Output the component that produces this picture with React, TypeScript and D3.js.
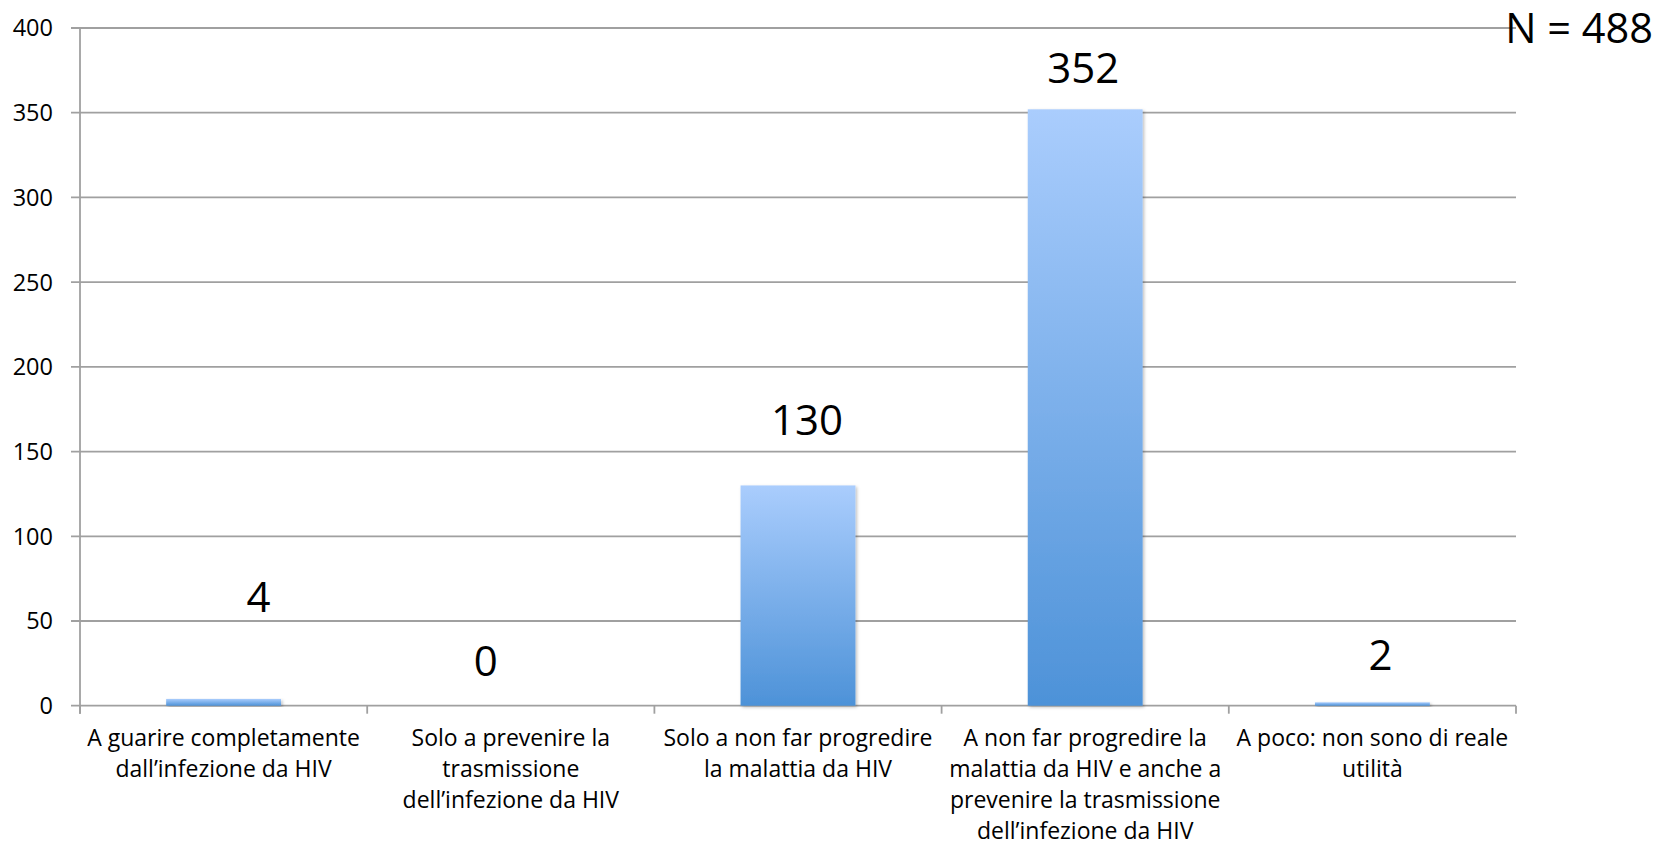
import React from "react";
import * as d3 from "d3";

const categories: string[][] = [
  ["A guarire completamente", "dall’infezione da HIV"],
  ["Solo a prevenire la", "trasmissione", "dell’infezione da HIV"],
  ["Solo a non far progredire", "la malattia da HIV"],
  ["A non far progredire la", "malattia da HIV e anche a", "prevenire la trasmissione", "dell’infezione da HIV"],
  ["A poco: non sono di reale", "utilità"],
];
const values: number[] = [4, 0, 130, 352, 2];
const yTicks: number[] = [0, 50, 100, 150, 200, 250, 300, 350, 400];
const labelDx: number[] = [35, -25, 9, -2, 8];
const labelDy: number[] = [-87, -30, -50, -26, -32];
const noteText = "N = 488";

const W = 1660;
const H = 847;
const left = 80;
const right = 1516;
const top = 28;
const bottom = 705.7;
const FONT = "'Open Sans', 'DejaVu Sans', sans-serif";

export default function App() {
  const x = d3.scaleBand<number>().domain(values.map((_, i) => i)).range([left, right]).padding(0);
  const y = d3.scaleLinear().domain([0, 400]).range([bottom, top]);
  const bw = x.bandwidth();
  const barW = bw * 0.4;
  const grid = "#a0a0a0";
  const boundaries = d3.range(values.length + 1).map((i) => left + i * bw);

  return (
    <svg width={W} height={H} style={{ position: "absolute", left: 0, top: 0, background: "#fff" }} fontFamily={FONT}>
      <defs>
        <linearGradient id="barGrad" x1="0" y1="0" x2="0" y2="1">
          <stop offset="0%" stopColor="#aacdfd" />
          <stop offset="100%" stopColor="#4d92d8" />
        </linearGradient>
        <filter id="shadow" x="-10%" y="-10%" width="120%" height="120%">
          <feDropShadow dx="1.5" dy="1.5" stdDeviation="1.5" floodColor="#000" floodOpacity="0.25" />
        </filter>
      </defs>
      {yTicks.map((t) => (
        <g key={t}>
          <line x1={left - 9} x2={right} y1={y(t)} y2={y(t)} stroke={grid} strokeWidth={1.8} />
          <text x={53} y={y(t)} dy="0.36em" textAnchor="end" fontSize={23.5} fill="#000">
            {t}
          </text>
        </g>
      ))}
      <line x1={left} x2={left} y1={top} y2={bottom + 8} stroke={grid} strokeWidth={1.8} />
      {boundaries.map((bx, i) => (
        <line key={i} x1={bx} x2={bx} y1={bottom} y2={bottom + 8} stroke={grid} strokeWidth={1.8} />
      ))}
      {values.map((v, i) => {
        const cx = (x(i) as number) + bw / 2;
        return (
          <g key={i}>
            {v > 0 && (
              <rect
                x={cx - barW / 2}
                y={y(v)}
                width={barW}
                height={bottom - y(v)}
                fill="url(#barGrad)"
                filter="url(#shadow)"
              />
            )}
            <text x={cx + labelDx[i]} y={y(v) + labelDy[i]} textAnchor="middle" fontSize={42} fill="#000">
              {v}
            </text>
            {categories[i].map((line, j) => (
              <text key={j} x={cx} y={746 + j * 31} textAnchor="middle" fontSize={23} fill="#000">
                {line}
              </text>
            ))}
          </g>
        );
      })}
      <text x={1653} y={43} textAnchor="end" fontSize={41.5} fill="#000">
        {noteText}
      </text>
    </svg>
  );
}
